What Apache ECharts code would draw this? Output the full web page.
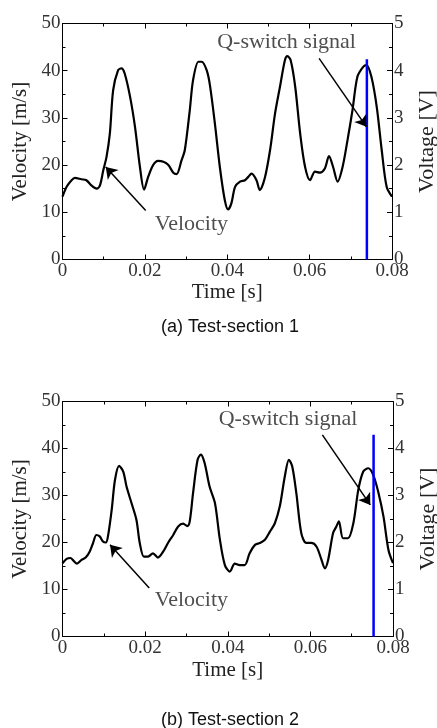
<!DOCTYPE html>
<html>
<head>
<meta charset="utf-8">
<script src="https://cdn.jsdelivr.net/npm/echarts@6/dist/echarts.min.js"></script>
<style>html,body{margin:0;padding:0;background:#fff}#c{width:437px;height:728px}</style>
</head>
<body>
<div id="c"></div>
<script>
// Test-section 1 velocity trace
const time1 = [0,0.001,0.0022,0.003,0.0046,0.0058,0.007,0.0083,0.0091,0.0099,0.0107,0.0115,0.0123,0.0135,0.0143,0.0151,0.0164,0.0176,0.0188,0.0198,0.0208,0.022,0.0232,0.0245,0.0257,0.0269,0.0277,0.0289,0.0297,0.0309,0.0317,0.033,0.0338,0.035,0.0358,0.037,0.0382,0.0394,0.0402,0.041,0.0419,0.0431,0.0443,0.0451,0.0459,0.0471,0.0479,0.0491,0.0504,0.0516,0.0528,0.054,0.0546,0.0554,0.0565,0.0577,0.0589,0.0601,0.0613,0.0625,0.0637,0.0647,0.0657,0.0668,0.068,0.0692,0.0704,0.0716,0.073,0.0738,0.075,0.0763,0.0775,0.0787,0.08];
const vel1 = [13.3,15.4,16.8,17.3,17.0,16.8,15.7,15.0,15.7,18.9,21.8,26.7,35.9,40.1,40.5,39.4,34.5,28.1,19.6,14.8,17.5,20.0,20.9,20.7,20.0,18.4,18.1,21.0,23.2,31.6,38.0,41.9,41.9,40.1,36.9,28.8,19.6,12.6,10.6,11.9,15.4,16.5,16.8,17.5,18.2,16.8,14.7,17.2,23.2,30.9,36.6,42.2,43.1,42.2,36.6,26.7,19.6,16.8,18.6,18.4,19.3,21.9,19.6,16.5,19.6,25.3,31.6,38.7,40.8,41.2,38.7,32.3,23.2,15.4,13.3];
const sigTime1 = [0.0739,0.0739];
const sigVolt1 = [0,4.24];

// Test-section 2 velocity trace
const time2 = [0,0.001,0.0019,0.0027,0.0035,0.0046,0.0056,0.0066,0.0074,0.0082,0.009,0.0098,0.0105,0.011,0.0119,0.0127,0.0137,0.0147,0.0155,0.0167,0.0179,0.0187,0.0197,0.0207,0.0219,0.0231,0.0244,0.0256,0.0268,0.028,0.0292,0.0302,0.0308,0.0316,0.0327,0.0335,0.0344,0.0356,0.0369,0.0381,0.0393,0.0405,0.0417,0.0429,0.0441,0.0453,0.0466,0.0478,0.049,0.0502,0.0514,0.0526,0.0538,0.0548,0.0556,0.0566,0.0578,0.059,0.0602,0.0615,0.0627,0.0635,0.0643,0.0655,0.0663,0.0669,0.0679,0.0691,0.0704,0.0716,0.0728,0.074,0.0752,0.0765,0.0777,0.0789,0.08];
const vel2 = [15.6,16.5,16.7,16.1,15.5,16.3,16.8,18.1,19.9,21.6,21.3,20.2,20.0,21.3,26.9,33.3,36.3,35.1,31.9,28.4,24.8,19.9,17.0,17.0,17.7,16.8,18.1,20.0,21.6,23.4,24.0,23.5,24.5,30.5,37.6,38.7,36.9,31.9,28.4,20.6,15.2,13.8,15.5,15.2,15.2,17.7,19.5,19.9,20.6,22.3,24.1,27.7,34.0,37.6,36.2,30.5,22.0,19.9,19.9,19.1,16.3,14.5,16.3,22.0,23.4,24.5,20.9,20.9,24.1,31.2,35.1,35.8,34.4,30.5,25.5,18.4,15.6];
const sigTime2 = [0.0753,0.0753];
const sigVolt2 = [0,4.29];

// Axis ticks
const xTicks = [0,0.02,0.04,0.06,0.08];
const velTicks = [0,10,20,30,40,50];
const voltTicks = [0,1,2,3,4,5];

// Annotations (data coordinates: [time, velocity])
const velArrow1 = [[0.0202,10.4],[0.0105,19.6]];
const velText1 = [0.0313,7.5];
const qArrow1 = [[0.0623,42.6],[0.0738,28.1]];
const qText1 = [0.0544,46.1];
const velArrow2 = [[0.021,10.3],[0.0115,19.5]];
const velText2 = [0.0312,7.7];
const qArrow2 = [[0.0629,42.9],[0.0745,28.0]];
const qText2 = [0.0546,46.2];

const serif = '"Liberation Serif","Times New Roman",serif';
const sans = '"Liberation Sans Narrow","Arial Narrow","Liberation Sans",sans-serif';

const grids = [
  {left:62.5, top:23.5, width:329.5, height:236, containLabel:false, outerBoundsMode:'none'},
  {left:62.5, top:401.5, width:330.5, height:235, containLabel:false, outerBoundsMode:'none'}
];

function zip(a,b){return a.map((v,i)=>[v,b[i]]);}

const xAxes=[], yAxes=[], series=[];
const sets = [
  {t:time1,v:vel1,st:sigTime1,sv:sigVolt1,va:velArrow1,vt:velText1,qa:qArrow1,qt:qText1},
  {t:time2,v:vel2,st:sigTime2,sv:sigVolt2,va:velArrow2,vt:velText2,qa:qArrow2,qt:qText2}
];
const lineC = '#000';
const labC = '#333';
const nameC = '#222';
sets.forEach((s,g)=>{
  const common = {
    axisLine:{show:true,onZero:false,lineStyle:{color:lineC,width:1}},
    axisTick:{show:true,inside:true,length:5,lineStyle:{color:lineC}},
    minorTick:{show:true,splitNumber:2,length:3,lineStyle:{color:lineC}},
    splitLine:{show:false}
  };
  xAxes.push(Object.assign({type:'value',gridIndex:g,position:'bottom',min:xTicks[0],max:xTicks[xTicks.length-1],interval:xTicks[1]-xTicks[0],
    name:'Time [s]',nameLocation:'middle',nameGap:g===0?22:23,nameTextStyle:{fontFamily:serif,fontSize:21,color:nameC},
    axisLabel:{fontFamily:serif,fontSize:19,color:labC,margin:2,formatter:v=>String(+v.toFixed(2))}},common));
  xAxes.push(Object.assign({type:'value',gridIndex:g,position:'top',min:xTicks[0],max:xTicks[xTicks.length-1],interval:xTicks[1]-xTicks[0],
    axisLabel:{show:false}},common));
  yAxes.push(Object.assign({type:'value',gridIndex:g,position:'left',min:velTicks[0],max:velTicks[velTicks.length-1],interval:velTicks[1]-velTicks[0],
    name:'Velocity [m/s]',nameLocation:'middle',nameGap:30,nameTextStyle:{fontFamily:serif,fontSize:21,color:nameC},
    axisLabel:{fontFamily:serif,fontSize:19,color:labC,margin:2}},common));
  yAxes.push(Object.assign({type:'value',gridIndex:g,position:'right',min:voltTicks[0],max:voltTicks[voltTicks.length-1],interval:voltTicks[1]-voltTicks[0],
    name:'Voltage [V]',nameLocation:'middle',nameGap:24,nameRotate:90,nameTextStyle:{fontFamily:serif,fontSize:22,color:nameC},
    axisLabel:{fontFamily:serif,fontSize:19,color:labC,margin:2}},common));
  const xi = g*2, yi = g*2;
  series.push({type:'line',xAxisIndex:xi,yAxisIndex:yi,data:zip(s.t,s.v),showSymbol:false,smooth:0.3,
    lineStyle:{color:'#000',width:2.2},z:3,animation:false});
  series.push({type:'line',xAxisIndex:xi,yAxisIndex:yi+1,data:zip(s.st,s.sv),showSymbol:false,
    lineStyle:{color:'#0000ff',width:2.5},z:4,animation:false});
  series.push({type:'lines',coordinateSystem:'cartesian2d',xAxisIndex:xi,yAxisIndex:yi,
    symbol:['none','arrow'],symbolSize:11,lineStyle:{color:'#000',width:1.5,opacity:1},
    data:[{coords:s.va},{coords:s.qa}],z:5,animation:false});
  series.push({type:'scatter',xAxisIndex:xi,yAxisIndex:yi,symbolSize:0,silent:true,
    data:[{value:s.vt,name:'Velocity'},{value:s.qt,name:'Q-switch signal'}],
    label:{show:true,position:'inside',formatter:p=>p.name,fontFamily:serif,fontSize:22,color:nameC},animation:false});
});

const chart = echarts.init(document.getElementById('c'),null,{renderer:'canvas'});
chart.setOption({
  animation:false,
  backgroundColor:'#fff',
  title:[
    {text:'(a) Test-section 1',left:225,top:313,textAlign:'center',textStyle:{fontFamily:sans,fontSize:18,fontWeight:'normal',color:'#111'}},
    {text:'(b) Test-section 2',left:225,top:706,textAlign:'center',textStyle:{fontFamily:sans,fontSize:18,fontWeight:'normal',color:'#111'}}
  ],
  grid:grids,
  xAxis:xAxes,
  yAxis:yAxes,
  series:series
});
</script>
</body>
</html>
